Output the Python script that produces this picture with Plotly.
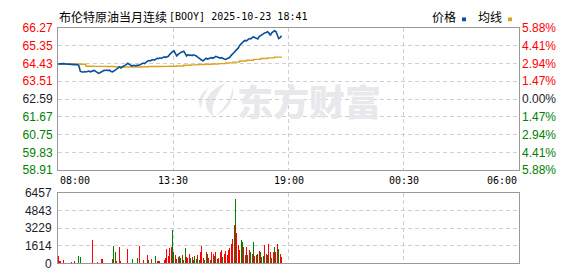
import plotly.graph_objects as go
import pandas as pd

# ---------------- data ----------------
title_name = "布伦特原油当月连续"
title_code = "[BOOY] 2025-10-23 18:41"
legend_labels = ["价格", "均线"]
watermark = "东方财富"

start_time = "2025-10-23 08:00"
end_time = "2025-10-24 06:00"

price = [
    64.40, 64.41, 64.42, 64.43, 64.42, 64.41, 64.40, 64.41, 64.40, 64.39,
    64.38, 64.38, 64.37, 64.38, 64.36, 64.30, 64.02, 64.00, 63.98, 64.01,
    63.99, 64.02, 64.04, 64.00, 64.03, 64.06, 64.07, 64.02, 63.97, 63.92,
    63.95, 63.99, 64.05, 64.08, 64.07, 64.09, 64.06, 64.08, 64.01, 64.00,
    64.04, 64.10, 64.15, 64.22, 64.25, 64.20, 64.27, 64.30, 64.33, 64.40,
    64.44, 64.38, 64.32, 64.30, 64.34, 64.33, 64.31, 64.35, 64.33, 64.38,
    64.41, 64.45, 64.42, 64.50, 64.55, 64.58, 64.56, 64.61, 64.63, 64.60,
    64.66, 64.70, 64.68, 64.72, 64.69, 64.74, 64.77, 64.75, 64.78, 64.80,
    64.90, 64.98, 65.04, 65.08, 64.95, 64.82, 64.90, 64.97, 65.00, 65.04,
    65.06, 64.95, 64.82, 64.88, 64.85, 64.87, 64.84, 64.88, 64.86, 64.82,
    64.76, 64.70, 64.64, 64.60, 64.57, 64.63, 64.70, 64.66, 64.69, 64.72,
    64.73, 64.70, 64.76, 64.80, 64.77, 64.74, 64.71, 64.73, 64.68, 64.66,
    64.64, 64.68, 64.72, 64.75, 64.85, 64.95, 65.00, 65.08, 65.15, 65.22,
    65.36, 65.45, 65.55, 65.58, 65.62, 65.60, 65.66, 65.72, 65.70, 65.78,
    65.80, 65.76, 65.74, 65.70, 65.82, 65.88, 65.90, 65.96, 66.01, 66.03,
    66.07, 66.00, 65.88, 66.02, 66.06, 66.12, 66.08, 65.85, 65.72, 65.76,
    65.86,
]

avg_price = [
    64.40, 64.41, 64.40, 64.39, 64.29, 64.28, 64.28, 64.27, 64.26, 64.25,
    64.25, 64.25, 64.26, 64.27, 64.27, 64.28, 64.29, 64.30, 64.34, 64.36,
    64.38, 64.39, 64.40, 64.42, 64.46, 64.50, 64.56, 64.60, 64.64, 64.69,
    64.72, 64.76, 64.78,
]

volume = [
    650, 250, 200, 30, 300, 40, 0, 0, 50, 30,
    100, 0, 250, 40, 0, 700, 600, 30, 40, 0,
    50, 30, 0, 40, 50, 2100, 30, 60, 120, 0,
    40, 350, 350, 60, 30, 40, 0, 30, 50, 350,
    1570, 1050, 200, 50, 1500, 200, 30, 40, 60, 50,
    1360, 40, 30, 440, 60, 40, 30, 520, 1570, 40,
    30, 300, 50, 40, 780, 300, 40, 350, 30, 50,
    640, 200, 250, 200, 40, 60, 300, 500, 1300, 700,
    1400, 1500, 3050, 1000, 800, 400, 600, 700, 500, 800,
    300, 1400, 600, 450, 900, 500, 600, 300, 700, 400,
    800, 300, 1000, 1600, 500, 300, 1000, 900, 500, 300,
    1000, 900, 700, 1000, 400, 500, 1000, 1200, 600, 900,
    1100, 800, 1200, 1400, 1800, 2200, 3500, 5940, 2800, 1700,
    1200, 2100, 2000, 1500, 800, 1500, 800, 1200, 1000, 900,
    1950, 700, 800, 900, 1100, 1000, 600, 700, 1700, 900,
    800, 1800, 1000, 500, 1000, 1500, 1000, 1800, 1300, 900,
    600,
]

vol_dir = [
    1, 1, 1, 1, 1, 1, 1, 1, 1, -1,
    1, 1, 1, -1, 1, -1, -1, 1, 1, 1,
    1, -1, 1, -1, 1, 1, 1, -1, 1, 1,
    1, 1, 1, 1, -1, 1, 1, 1, -1, 1,
    -1, -1, 1, 1, 1, 1, -1, 1, 1, -1,
    1, 1, -1, -1, 1, 1, 1, -1, 1, -1,
    1, 1, 1, -1, 1, -1, 1, 1, -1, 1,
    -1, 1, 1, 1, -1, 1, 1, 1, 1, 1,
    1, 1, -1, -1, 1, 1, 1, -1, -1, 1,
    -1, -1, 1, 1, 1, -1, 1, -1, -1, -1,
    1, -1, 1, 1, 1, -1, 1, -1, 1, -1,
    1, 1, -1, 1, 1, 1, 1, 1, -1, 1,
    1, 1, 1, 1, 1, 1, 1, -1, 1, 1,
    1, -1, -1, 1, 1, 1, -1, 1, -1, 1,
    -1, 1, 1, -1, 1, -1, 1, -1, 1, 1,
    -1, 1, 1, -1, 1, -1, 1, 1, -1, 1,
    1,
]

price_ticks = [58.91, 59.83, 60.75, 61.67, 62.59, 63.51, 64.43, 65.35, 66.27]
pct_labels = ["5.88%", "4.41%", "2.94%", "1.47%", "0.00%", "1.47%", "2.94%", "4.41%", "5.88%"]
vol_ticks = [0, 1614, 3229, 4843, 6457]
x_tick_times = ["2025-10-23 08:00", "2025-10-23 13:30", "2025-10-23 19:00",
                "2025-10-24 00:30", "2025-10-24 06:00"]
x_tick_labels = ["08:00", "13:30", "19:00", "00:30", "06:00"]
prev_close = 62.59

# ---------------- styling ----------------
W, H = 578, 276
RED, GREEN, DARK = "#ff0000", "#008000", "#1c1c2c"
BLUE, GOLD = "#0a4f9f", "#dba21f"
GRID = "#cfcfcf"
BORDER = "#999999"
LABEL_FONT = "Liberation Sans, Arial, sans-serif"


def px(x):
    return x / W


def py(y):
    return 1 - y / H


times = pd.date_range(start_time, periods=len(price), freq="4min")
avg_times = pd.date_range(start_time, periods=len(avg_price), freq="20min")
vol_times = pd.date_range(start_time, periods=len(volume), freq="4min")


def tick_color(v):
    if abs(v - prev_close) < 1e-9:
        return DARK
    return RED if v > prev_close else GREEN


left_text = [f'<span style="color:{tick_color(v)}">{v:.2f}</span>' for v in price_ticks]
right_text = [f'<span style="color:{tick_color(v)}">{lab}</span>'
              for v, lab in zip(price_ticks, reversed(pct_labels))]

fig = go.Figure()

fig.add_trace(go.Scatter(x=avg_times, y=avg_price, mode="lines",
                         line=dict(color=GOLD, width=1.4, shape="hv"),
                         hoverinfo="skip", showlegend=False, xaxis="x", yaxis="y"))
fig.add_trace(go.Scatter(x=times, y=price, mode="lines",
                         line=dict(color=BLUE, width=1.6),
                         hoverinfo="skip", showlegend=False, xaxis="x", yaxis="y"))
# invisible trace so the right-hand percentage axis is rendered
fig.add_trace(go.Scatter(x=times, y=price, mode="lines", opacity=0,
                         line=dict(width=0), hoverinfo="skip",
                         showlegend=False, xaxis="x", yaxis="y2"))
fig.add_trace(go.Bar(x=vol_times, y=volume,
                     marker=dict(color=[RED if d > 0 else GREEN for d in vol_dir],
                                 line=dict(width=0)),
                     width=4 * 60 * 1000 * 0.72,
                     hoverinfo="skip", showlegend=False, xaxis="x2", yaxis="y3"))

xaxis_common = dict(
    type="date", range=[start_time, end_time],
    tickvals=x_tick_times, showticklabels=False, ticks="",
    showgrid=True, gridcolor=GRID, griddash="4px,3px", gridwidth=1,
    showline=True, linecolor=BORDER, linewidth=1, mirror=True,
    zeroline=False, fixedrange=True,
)

fig.update_layout(
    width=W, height=H, autosize=False,
    margin=dict(l=0, r=0, t=0, b=0),
    paper_bgcolor="white", plot_bgcolor="white",
    bargap=0,
    xaxis=dict(domain=[px(58), px(519)], anchor="y", **xaxis_common),
    xaxis2=dict(domain=[px(58), px(519)], anchor="y3", **xaxis_common),
    yaxis=dict(domain=[py(172), py(22)], range=[price_ticks[0], price_ticks[-1]],
               tickvals=price_ticks, ticktext=left_text, ticks="",
               tickfont=dict(family=LABEL_FONT, size=12),
               showgrid=True, gridcolor=GRID, griddash="4px,3px",
               showline=True, linecolor=BORDER, linewidth=1, mirror=True,
               zeroline=False, fixedrange=True, ticklabelstandoff=2),
    yaxis2=dict(overlaying="y", side="right", anchor="x",
                range=[price_ticks[0], price_ticks[-1]],
                tickvals=price_ticks, ticktext=right_text, ticks="",
                tickfont=dict(family=LABEL_FONT, size=12),
                showgrid=False, showline=False, zeroline=False, fixedrange=True,
                ticklabelstandoff=2),
    yaxis3=dict(domain=[py(270), py(196)], range=[vol_ticks[0], vol_ticks[-1]],
                tickvals=vol_ticks, ticks="",
                tickfont=dict(family=LABEL_FONT, size=12, color=DARK),
                showgrid=True, gridcolor=GRID, griddash="4px,3px",
                showline=True, linecolor=BORDER, linewidth=1, mirror=True,
                zeroline=False, fixedrange=True, ticklabelstandoff=3),
)

annotations = []
# x-axis labels (first left-aligned, last right-aligned)
anchors = ["left", "center", "center", "center", "right"]
for t, lab, anc in zip(x_tick_times, x_tick_labels, anchors):
    annotations.append(dict(x=t, xref="x", y=py(183), yref="paper", text=lab,
                            showarrow=False, xanchor=anc, yanchor="middle",
                            font=dict(family="DejaVu Sans Mono, monospace", size=10, color="#000")))
# title
annotations.append(dict(x=px(57), y=py(10), xref="paper", yref="paper", text=title_name,
                        showarrow=False, xanchor="left", yanchor="middle",
                        font=dict(family="Noto Sans CJK SC", size=12, color="#000")))
annotations.append(dict(x=px(167), y=py(10), xref="paper", yref="paper", text=title_code,
                        showarrow=False, xanchor="left", yanchor="middle",
                        font=dict(family="DejaVu Sans Mono, monospace", size=10, color="#000")))
# legend texts
annotations.append(dict(x=px(430), y=py(10), xref="paper", yref="paper", text=legend_labels[0],
                        showarrow=False, xanchor="left", yanchor="middle",
                        font=dict(family="Noto Sans CJK SC", size=12, color="#000")))
annotations.append(dict(x=px(476), y=py(10), xref="paper", yref="paper", text=legend_labels[1],
                        showarrow=False, xanchor="left", yanchor="middle",
                        font=dict(family="Noto Sans CJK SC", size=12, color="#000")))
# watermark
annotations.append(dict(x=px(309), y=py(98), xref="paper", yref="paper", text=watermark,
                        showarrow=False, xanchor="center", yanchor="middle",
                        font=dict(family="Noto Sans CJK SC", size=36, color="#e8e8ec", weight=900)))
fig.update_layout(annotations=annotations)


def path(points_cmd):
    out = []
    for item in points_cmd:
        if isinstance(item, str):
            out.append(item)
        else:
            out.append(f"{px(item[0]):.5f},{py(item[1]):.5f}")
    return " ".join(out)


shapes = [
    dict(type="rect", xref="paper", yref="paper",
         x0=px(462), x1=px(466), y0=py(15), y1=py(11),
         fillcolor=BLUE, line=dict(width=0)),
    dict(type="rect", xref="paper", yref="paper",
         x0=px(508), x1=px(512), y0=py(15), y1=py(11),
         fillcolor=GOLD, line=dict(width=0)),
]
logo_paths = [
    ["M", (226, 80), "C", (206, 88), (200, 104), (213, 115), "C", (211, 101), (217, 90), (226, 80), "Z"],
    ["M", (233, 84), "C", (231, 98), (223, 108), (215, 115), "C", (229, 108), (235, 96), (233, 84), "Z"],
    ["M", (209, 85), "C", (199, 91), (197, 100), (201, 107), "C", (202, 99), (204, 91), (209, 85), "Z"],
]
for lp in logo_paths:
    shapes.append(dict(type="path", xref="paper", yref="paper", path=path(lp),
                       fillcolor="#e8e8ec", line=dict(width=0), layer="below"))
fig.update_layout(shapes=shapes)

fig.write_html("out.html", config={"displayModeBar": False, "staticPlot": True})
